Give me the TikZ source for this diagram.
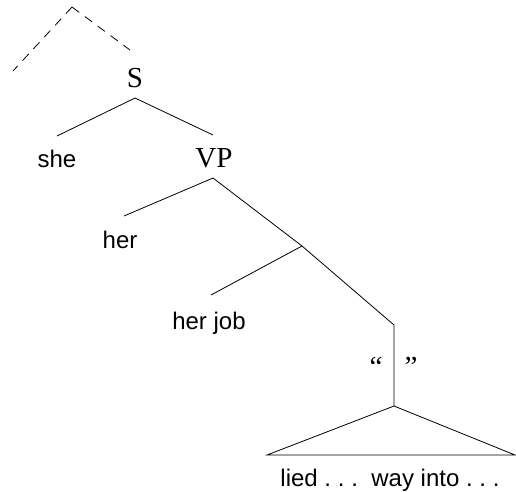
\documentclass[tikz,border=0pt]{standalone}
\usepackage{fontspec}
\setmainfont{Liberation Serif}
\setsansfont{Liberation Sans}
\newcommand{\mydots}{.\kern0.28em.\kern0.28em.\kern0.28em}
\begin{document}
\begin{tikzpicture}[x=1pt,y=-1pt,
  cat/.style={font=\fontsize{29}{30}\selectfont\rmfamily, inner sep=0pt, anchor=base},
  word/.style={font=\fontsize{24}{26}\selectfont\sffamily, inner sep=0pt, anchor=base},
  edge/.style={line width=0.8pt},
  dashedge/.style={line width=0.8pt, dash pattern=on 9pt off 7pt}]
\useasboundingbox (0,0) rectangle (516,491);
% coordinates
\coordinate (top) at (72,7);
\coordinate (dl) at (13,71);
\coordinate (dr) at (130,50);
\coordinate (sa) at (135,98);
\coordinate (she-t) at (57,136);
\coordinate (vp-t) at (213,135);
\coordinate (vpa) at (213,178);
\coordinate (her-t) at (124,216);
\coordinate (br) at (302,246);
\coordinate (job-t) at (211,295);
\coordinate (corner) at (394,325);
\coordinate (tri) at (394,406);
\coordinate (tl) at (267,455);
\coordinate (trr) at (515,455);
% labels
\node[cat] (S) at (135,87) {S};
\node[word] (she) at (57,167) {she};
\node[cat] (VP) at (214,167) {VP};
\node[word] (her) at (120,248) {her};
\node[word] (job) at (209,329) {her job};
\node[cat] (lq) at (376,376) {“};
\node[cat] (rq) at (411,376) {”};
\node[word] (lied) at (390,486) {lied \mydots\ way into .\kern0.28em.\kern0.28em.};
% edges
\draw[dashedge] (top) -- (dl);
\draw[dashedge] (top) -- (dr);
\draw[edge] (sa) -- (she-t);
\draw[edge] (sa) -- (vp-t);
\draw[edge] (vpa) -- (her-t);
\draw[edge] (vpa) -- (br) -- (corner) -- (tri);
\draw[edge] (br) -- (job-t);
\draw[edge] (tl) -- (tri) -- (trr) -- cycle;
\end{tikzpicture}
\end{document}
